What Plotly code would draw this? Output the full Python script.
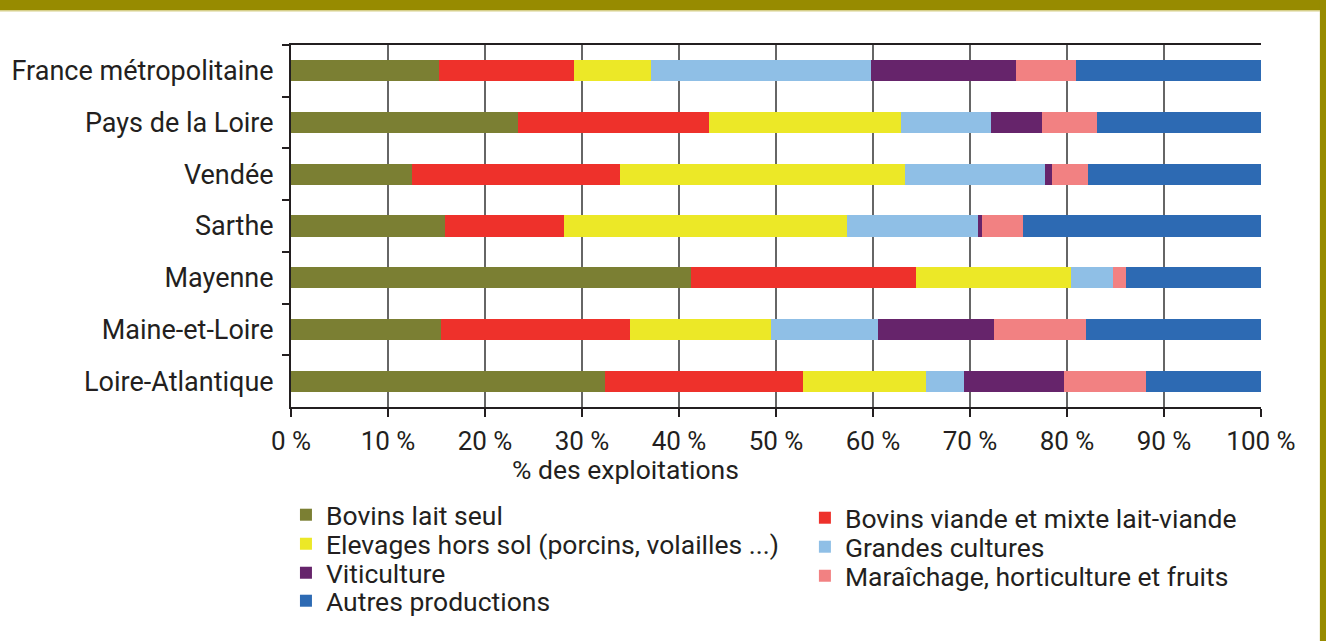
import plotly.graph_objects as go

categories = ["France métropolitaine", "Pays de la Loire", "Vendée", "Sarthe",
              "Mayenne", "Maine-et-Loire", "Loire-Atlantique"]

series_names = ["Bovins lait seul", "Bovins viande et mixte lait-viande",
                "Elevages hors sol (porcins, volailles ...)", "Grandes cultures",
                "Viticulture", "Maraîchage, horticulture et fruits", "Autres productions"]

bovins_lait = [15.3, 23.4, 12.5, 15.9, 41.2, 15.5, 32.4]
bovins_viande = [13.9, 19.7, 21.4, 12.2, 23.2, 19.4, 20.4]
elevages_hors_sol = [7.9, 19.8, 29.4, 29.2, 16.0, 14.6, 12.7]
grandes_cultures = [22.7, 9.3, 14.4, 13.5, 4.3, 11.0, 3.9]
viticulture = [14.9, 5.2, 0.8, 0.4, 0.0, 12.0, 10.3]
maraichage = [6.2, 5.7, 3.7, 4.3, 1.4, 9.5, 8.4]
autres = [19.1, 16.9, 17.8, 24.5, 13.9, 18.0, 11.9]

tick_vals = [0, 10, 20, 30, 40, 50, 60, 70, 80, 90, 100]
tick_text = ["0 %", "10 %", "20 %", "30 %", "40 %", "50 %", "60 %", "70 %", "80 %", "90 %", "100 %"]

colors = ["#7B7F33", "#EE312B", "#ECE827", "#8FBFE6", "#66246B", "#F28182", "#2D6AB3"]
series_values = [bovins_lait, bovins_viande, elevages_hors_sol, grandes_cultures,
                 viticulture, maraichage, autres]

FONT = "Roboto"
TXT = "#231F20"

# one legend per entry: two columns, row-major order as in the reference
legend_pos = [(-0.0052, -0.2983), (0.5298, -0.3066),
              (-0.0052, -0.3785), (0.5298, -0.3867),
              (-0.0052, -0.4586), (0.5298, -0.4669),
              (-0.0052, -0.5359)]

fig = go.Figure()
legend_layout = {}
for i, (name, vals, col) in enumerate(zip(series_names, series_values, colors)):
    lid = "legend" if i == 0 else f"legend{i + 1}"
    fig.add_trace(go.Bar(
        y=categories, x=vals, name=name, orientation="h",
        marker=dict(color=col, line=dict(width=0)),
        legend=lid,
    ))
    lx, ly = legend_pos[i]
    legend_layout[lid] = dict(x=lx, y=ly, xanchor="left", yanchor="middle",
                              font=dict(size=26.5, family=FONT, color=TXT),
                              itemwidth=30, bgcolor="rgba(0,0,0,0)")

fig.update_layout(
    barmode="stack",
    bargap=0.59,
    width=1326, height=641,
    margin=dict(l=289, r=65, t=45, b=234),
    paper_bgcolor="white", plot_bgcolor="white",
    font=dict(family=FONT, color=TXT, size=22),
    showlegend=True,
    **legend_layout,
)

fig.update_xaxes(
    range=[0, 100], tickvals=tick_vals, ticktext=tick_text,
    showgrid=True, gridcolor="#666666", gridwidth=1.5,
    showline=True, linecolor=TXT, linewidth=2, mirror=True,
    ticks="outside", ticklen=8, tickcolor=TXT, tickwidth=1.5,
    tickfont=dict(size=26, family=FONT, color=TXT),
    ticklabelstandoff=2,
    zeroline=False,
)
fig.update_yaxes(
    autorange="reversed",
    showline=True, linecolor=TXT, linewidth=2,
    ticks="outside", ticklen=7, tickcolor=TXT, tickwidth=1.5,
    tickson="boundaries", showgrid=False,
    tickfont=dict(size=27, family=FONT, color=TXT),
    ticklabelstandoff=10,
)

fig.add_annotation(text="% des exploitations", xref="paper", yref="paper",
                   x=0.345, y=-0.172, xanchor="center", yanchor="middle",
                   showarrow=False,
                   font=dict(size=26.5, family=FONT, color=TXT))

# decorative frame: gold band at top and right
fig.add_shape(type="rect", xref="paper", yref="paper",
              x0=-0.3, x1=1.07, y0=1.0967, y1=1.13,
              fillcolor="#978B00", line=dict(width=0), layer="above")
fig.add_shape(type="rect", xref="paper", yref="paper",
              x0=-0.3, x1=1.0607, y0=1.0925, y1=1.0967,
              fillcolor="#D6CF8A", line=dict(width=0), layer="above")
fig.add_shape(type="rect", xref="paper", yref="paper",
              x0=1.0607, x1=1.07, y0=-0.66, y1=1.13,
              fillcolor="#978B00", line=dict(width=0), layer="above")

fig.write_html("out.html", config={"displayModeBar": False},
               post_script="document.body.style.margin='0px';document.body.style.overflow='hidden';")
